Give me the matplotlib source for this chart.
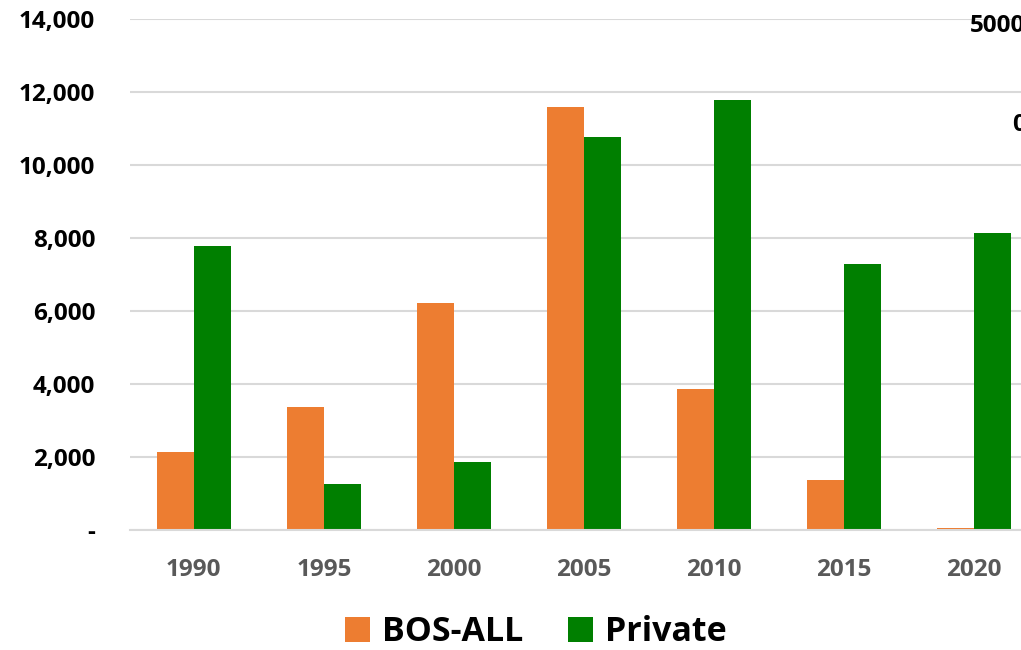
import matplotlib.pyplot as plt
import numpy as np
from matplotlib.ticker import FuncFormatter

plt.rcParams['font.family'] = ['Open Sans', 'DejaVu Sans']

years = ['1990', '1995', '2000', '2005', '2010', '2015', '2020']
bos_all = [2150, 3380, 6220, 11590, 3860, 1370, 50]
private = [7790, 1270, 1870, 10760, 11780, 7290, 8150]

orange = '#ED7D31'
green = '#007F00'

fig = plt.figure(figsize=(10.21, 6.5), dpi=100)
fig.set_facecolor('white')
ax = fig.add_axes([130/1021, 120/650, 891/1021, 511/650])

x = np.arange(len(years))
w = 0.285
ax.bar(x - w/2, bos_all, w, color=orange, label='BOS-ALL', zorder=2)
ax.bar(x + w/2, private, w, color=green, label='Private', zorder=2)

ax.set_xlim(-0.49, 6.36)
ax.set_ylim(0, 14000)
ax.set_yticks(np.arange(0, 14001, 2000))
ax.yaxis.set_major_formatter(FuncFormatter(lambda v, p: '-' if v == 0 else f'{v:,.0f}'))
ax.set_xticks(x)
ax.set_xticklabels(years)

ax.grid(axis='y', color='#D9D9D9', linewidth=1.5, zorder=0)
for s in ['top', 'right', 'left']:
    ax.spines[s].set_visible(False)
ax.spines['bottom'].set_color('#D9D9D9')
ax.spines['bottom'].set_linewidth(1.5)
ax.tick_params(axis='both', length=0)
ax.tick_params(axis='y', pad=25, labelsize=17.5)
ax.tick_params(axis='x', pad=20, labelsize=17.5, labelcolor='#595959')
for t in ax.get_yticklabels() + ax.get_xticklabels():
    t.set_fontweight('bold')

# bits of a second chart's axis showing at the right edge
fig.text(970/1021, 1 - 26/650, '5000', fontsize=17.5, fontweight='bold', va='center', ha='left')
fig.text(1012/1021, 1 - 125/650, '0', fontsize=17.5, fontweight='bold', va='center', ha='left')

fig.legend(loc='center', bbox_to_anchor=(536/1021, 1 - 632/650), ncol=2, frameon=False,
           prop={'size': 24.5, 'weight': 'bold'}, handlelength=0.75, handleheight=0.75,
           handletextpad=0.35, columnspacing=1.3, borderpad=0.2)

plt.savefig('out.png', dpi=100)
